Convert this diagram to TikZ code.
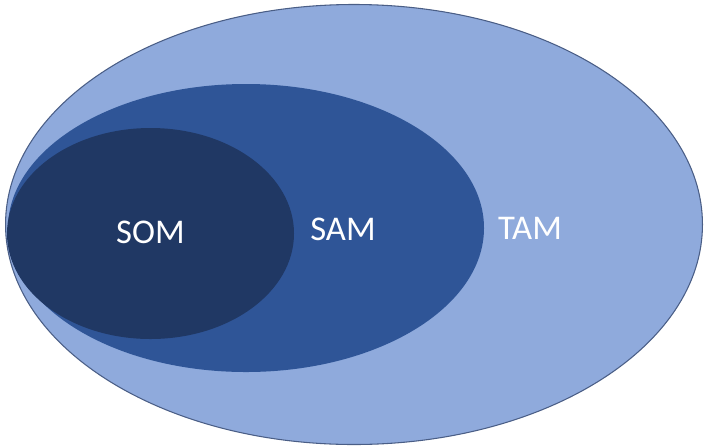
\documentclass[tikz,border=0pt]{standalone}
\usepackage{fontspec}
\setmainfont{Carlito}
\usetikzlibrary{shapes.geometric}
\definecolor{tamfill}{HTML}{8FAADC}
\definecolor{samfill}{HTML}{2F5597}
\definecolor{somfill}{HTML}{203864}
\definecolor{rimline}{HTML}{4A5E86}
\tikzset{
  market/.style={ellipse, inner sep=0pt, outer sep=0pt},
  marketlabel/.style={text=white, font=\fontsize{26}{30}\selectfont, anchor=base, inner sep=0pt}
}
\begin{document}
\begin{tikzpicture}[x=0.75pt, y=-0.75pt]
  \useasboundingbox (0,0) rectangle (705,447);
  % total market
  \node[market, fill=tamfill, draw=rimline, line width=0.8pt,
        minimum width=522.7pt, minimum height=330pt] (tam) at (354,224.5) {};
  % serviceable market
  \node[market, fill=samfill, minimum width=357pt, minimum height=216pt] (sam) at (246,228) {};
  % obtainable market
  \node[market, fill=somfill, minimum width=215.25pt, minimum height=158.25pt] (som) at (150.5,233.5) {};
  \node[marketlabel] (somtext) at (150.5,243) {SOM};
  \node[marketlabel] (samtext) at (343,240) {SAM};
  \node[marketlabel] (tamtext) at (530,239) {TAM};
\end{tikzpicture}
\end{document}
